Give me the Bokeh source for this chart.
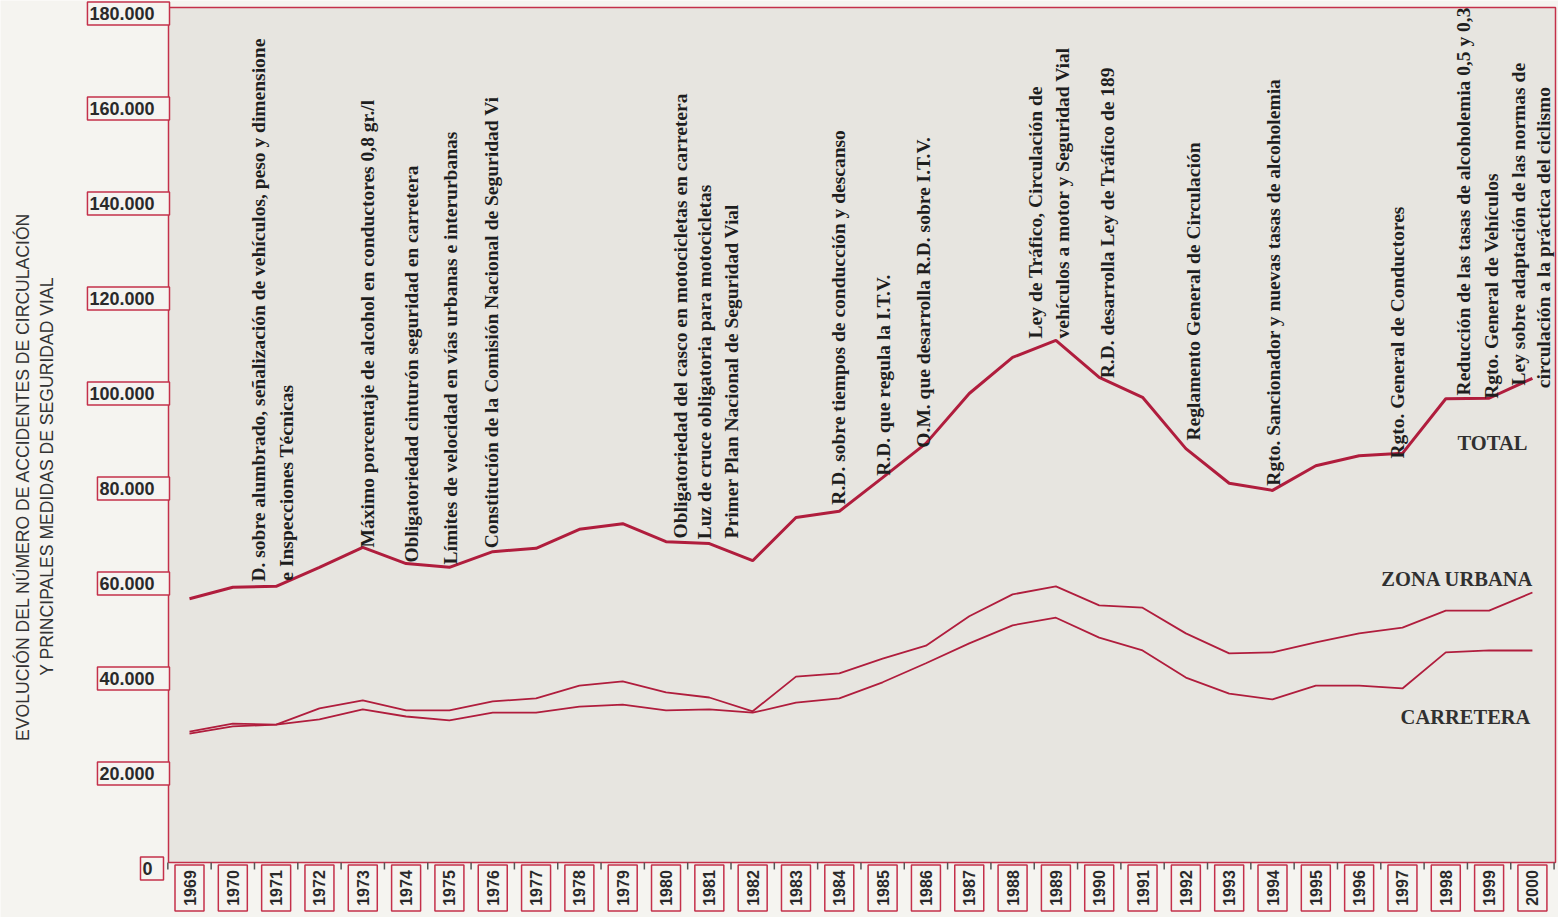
from math import pi
from bokeh.plotting import figure
from bokeh.models import Range1d, ColumnDataSource
from bokeh.core.properties import value
from bokeh.embed import file_html
from bokeh.resources import INLINE

# ---------------- data ----------------
years = list(range(1969, 2001))
total = [56800, 59200, 59400, 63400, 67600, 64200, 63400, 66700, 67400, 71400,
         72600, 68800, 68400, 64800, 73900, 75200, 82300, 89500, 100000, 107600,
         111200, 103400, 99200, 88400, 81100, 79600, 84800, 86900, 87400, 98900,
         99000, 103200]
zona_urbana = [28800, 30500, 30300, 33700, 35400, 33300, 33300, 35200, 35800, 38500,
               39400, 37100, 36000, 33100, 40400, 41100, 44200, 46900, 53100, 57700,
               59400, 55400, 54900, 49500, 45300, 45500, 47600, 49500, 50700, 54300,
               54300, 58100]
carretera = [28400, 29900, 30300, 31400, 33500, 32000, 31200, 32800, 32800, 34100,
             34500, 33300, 33500, 32800, 34900, 35800, 39200, 43200, 47400, 51200,
             52800, 48600, 45900, 40200, 36800, 35600, 38500, 38500, 37900, 45500,
             45900, 45900]

ytick_values = [0, 20000, 40000, 60000, 80000, 100000, 120000, 140000, 160000, 180000]
ytick_labels = ["0", "20.000", "40.000", "60.000", "80.000", "100.000", "120.000",
                "140.000", "160.000", "180.000"]

series_names = ["TOTAL", "ZONA URBANA", "CARRETERA"]
series_label_y = [89500, 61050, 31800]

notes_text = [
    "D. sobre alumbrado, señalización de vehículos, peso y dimensione",
    "e Inspecciones Técnicas",
    "Máximo porcentaje de alcohol en conductores 0,8 gr./l",
    "Obligatoriedad cinturón seguridad en carretera",
    "Límites de velocidad en vías urbanas e interurbanas",
    "Constitución de la Comisión Nacional de Seguridad Vi",
    "Obligatoriedad del casco en motocicletas en carretera",
    "Luz de cruce obligatoria para motocicletas",
    "Primer Plan Nacional de Seguridad Vial",
    "R.D. sobre tiempos de conducción y descanso",
    "R.D. que regula la I.T.V.",
    "O.M. que desarrolla R.D. sobre I.T.V.",
    "Ley de Tráfico, Circulación de",
    "vehículos a motor y Seguridad Vial",
    "R.D. desarrolla Ley de Tráfico de 189",
    "Reglamento General de Circulación",
    "Rgto. Sancionador y nuevas tasas de alcoholemia",
    "Rgto. General de Conductores",
    "Reducción de las tasas de alcoholemia 0,5 y 0,3",
    "Rgto. General de Vehículos",
    "Ley sobre adaptación de las normas de",
    "circulación a la práctica del ciclismo",
]
notes_year = [1970.59, 1971.24, 1973.11, 1974.12, 1975.02, 1975.97, 1980.33, 1980.89,
              1981.51, 1983.98, 1985.02, 1985.94, 1988.53, 1989.15, 1990.19, 1992.18,
              1994.02, 1996.89, 1998.41, 1999.06, 1999.68, 2000.26]
notes_base = [60400, 60600, 67600, 64400, 64000, 67400, 69500, 69300, 69500, 76600,
              82700, 88600, 111600, 111600, 103200, 90100, 80600, 86300, 99600, 98900,
              101700, 101100]

title_lines = ["EVOLUCIÓN DEL NÚMERO DE ACCIDENTES DE CIRCULACIÓN",
               "Y PRINCIPALES MEDIDAS DE SEGURIDAD VIAL"]

# ---------------- layout helpers (pixel -> data, for placing decorations) ----------------
W, H = 1558, 917
PX_PER_YEAR = 43.32        # horizontal scale: 1969 at px 189
PX_PER_UNIT = 4.75 / 1000  # vertical scale: 0 at px 868


def px2x(px):
    return years[0] + (px - 189) / PX_PER_YEAR


def py2y(py):
    return (868 - py) / PX_PER_UNIT


RED = "#c4304a"
LINE = "#b01d3d"
PAGE = "#f5f4f0"
PLOT_BG = "#e7e5e0"
INK = "#2a2a2a"

p = figure(width=W, height=H, x_range=Range1d(px2x(0), px2x(W)),
           y_range=Range1d(py2y(H), py2y(0)),
           x_axis_location=None, y_axis_location=None, min_border=0,
           output_backend="svg", toolbar_location=None)
p.background_fill_color = PAGE
p.border_fill_color = PAGE
p.outline_line_color = None
p.grid.visible = False

# plot area (frame)
XL, XR, YB, YT = px2x(168), px2x(1555), py2y(862), py2y(7)
p.quad(left=[XL], right=[XR], bottom=[YB], top=[YT], fill_color=PLOT_BG,
       line_color=RED, line_width=1.5)

# small ticks between the year boxes
tick_x = [y - 0.5 for y in years] + [years[-1] + 0.5]
p.segment(x0=tick_x, x1=tick_x, y0=[YB] * len(tick_x), y1=[py2y(869)] * len(tick_x),
          line_color="#555555", line_width=1.5)

# lines
p.line(years, zona_urbana, line_color=LINE, line_width=1.8)
p.line(years, carretera, line_color=LINE, line_width=1.8)
p.line(years, total, line_color=LINE, line_width=3)

# series names
src_names = ColumnDataSource(dict(x=[years[-1]] * 3, y=series_label_y, t=series_names,
                                  dx=[-5, 1, -2]))
p.text(x="x", y="y", text="t", x_offset="dx", source=src_names, text_align="right",
       text_baseline="middle", text_font=value("Liberation Serif"), text_font_style="bold",
       text_font_size="20.5px", text_color="#303030")

# annotations (legislative measures)
src_notes = ColumnDataSource(dict(x=notes_year, y=notes_base, t=notes_text))
p.text(x="x", y="y", text="t", source=src_notes, angle=pi / 2, text_align="left",
       text_baseline="middle", text_font=value("Liberation Serif"), text_font_style="bold",
       text_font_size="19.5px", text_color="#1e1e1e")

# y tick labels in boxes
FS = 18.0
box_x, box_w, txt_x = [], [], []
for lab in ytick_labels:
    tw = FS * (0.556 * sum(c.isdigit() for c in lab) + 0.278 * lab.count("."))
    t_right = 152 if lab == "0" else 154
    b_right = 163 if lab == "0" else 169
    b_left = t_right - tw - 2
    box_x.append(px2x((b_left + b_right) / 2))
    box_w.append(b_right - b_left)
    txt_x.append(px2x(t_right))
p.rect(x=box_x, y=ytick_values, width=box_w, height=[23] * len(box_w),
       width_units="screen", height_units="screen", fill_color=PAGE,
       line_color=RED, line_width=1.5)
p.text(x=txt_x, y=ytick_values, text=ytick_labels, text_align="right",
       text_baseline="middle", text_font=value("Liberation Sans"), text_font_style="bold",
       text_font_size="18px", text_color=INK)

# year labels in boxes
year_y = py2y(887.5)
p.rect(x=years, y=[year_y] * len(years), width=29, height=46,
       width_units="screen", height_units="screen", fill_color=PAGE,
       line_color=RED, line_width=1.5)
p.text(x=years, y=[year_y] * len(years), text=[str(y) for y in years], angle=pi / 2,
       text_align="center", text_baseline="middle", text_font=value("Liberation Sans"),
       text_font_style="bold", text_font_size="16px", text_color=INK)

# y axis title (two lines)
p.text(x=[px2x(22.5), px2x(46.5)], y=[py2y(476)] * 2, text=title_lines, angle=pi / 2,
       text_align="center", text_baseline="middle", text_font=value("Liberation Sans"),
       text_font_size="17.6px", text_color="#333333")

open("out.html", "w").write(file_html(p, INLINE))
